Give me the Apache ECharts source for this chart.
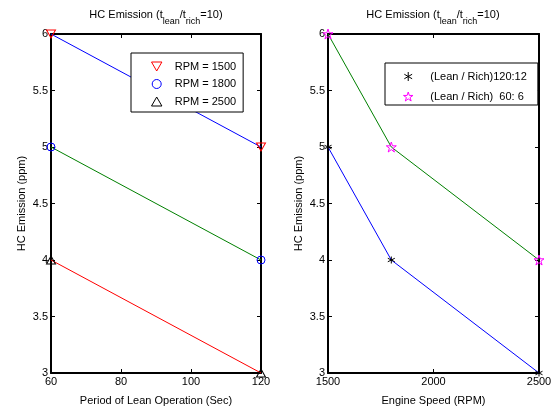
<!DOCTYPE html>
<html>
<head>
<meta charset="utf-8">
<script src="https://cdn.jsdelivr.net/npm/echarts@6/dist/echarts.min.js"></script>
<style>
html,body{margin:0;padding:0;background:#fff;}
#c{width:554px;height:411px;}
</style>
</head>
<body>
<div id="c"></div>
<script>
// ---- Data ----
const leanPeriod = [60, 120];
const rpm1500 = [6, 5];
const rpm1800 = [5, 4];
const rpm2500 = [4, 3];
const engineSpeed = [1500, 1800, 2500];
const lean120 = [5, 4, 3];
const lean60 = [6, 5, 4];
const leftNames = ['RPM = 1500', 'RPM = 1800', 'RPM = 2500'];
const rightNames = ['(Lean / Rich)120:12', '(Lean / Rich)  60: 6'];

const FONT = '"Liberation Sans", Arial, Helvetica, sans-serif';
const pairs = (xs, ys) => xs.map((x, i) => [x, ys[i]]);

const TRI_DOWN = 'path://M0,0 L10,0 L5,8.66 Z';
const TRI_UP = 'path://M5,0 L10,8.66 L0,8.66 Z';
const CIRCLE = 'path://M10,5 A5,5 0 1 1 0,5 A5,5 0 1 1 10,5 Z';
const STAR = 'path://M50,0 L61.23,34.55 L97.55,34.55 L68.17,55.9 L79.39,90.45 L50,69.1 L20.61,90.45 L31.83,55.9 L2.45,34.55 L38.77,34.55 Z';
const ASTER = 'path://M5,0 L5,10 M0.67,2.5 L9.33,7.5 M0.67,7.5 L9.33,2.5';

function xAx(grid, min, max, interval, pos, name) {
  const a = {
    gridIndex: grid, type: 'value', min: min, max: max, interval: interval, position: pos,
    axisLine: {show: true, lineStyle: {color: '#000', width: 2}},
    axisTick: {show: true, inside: true, length: 4, lineStyle: {color: '#000', width: 1}},
    axisLabel: {show: pos === 'bottom', margin: 3, color: '#000', fontSize: 11, fontFamily: FONT,
      formatter: v => String(v)},
    splitLine: {show: false}
  };
  if (name) {
    a.name = name; a.nameLocation = 'middle'; a.nameGap = 22;
    a.nameTextStyle = {color: '#000', fontSize: 11, fontFamily: FONT};
  }
  return a;
}
function yAx(grid, pos, name) {
  const a = {
    gridIndex: grid, type: 'value', min: 3, max: 6, interval: 0.5, position: pos,
    axisLine: {show: true, lineStyle: {color: '#000', width: 2}},
    axisTick: {show: true, inside: true, length: 4, lineStyle: {color: '#000', width: 1}},
    axisLabel: {show: pos === 'left', margin: 3, color: '#000', fontSize: 11, fontFamily: FONT},
    splitLine: {show: false}
  };
  if (name) {
    a.name = name; a.nameLocation = 'middle'; a.nameGap = 24;
    a.nameTextStyle = {color: '#000', fontSize: 11, fontFamily: FONT};
  }
  return a;
}
function lineS(xi, yi, data, color) {
  return {type: 'line', xAxisIndex: xi, yAxisIndex: yi, data: data, showSymbol: false, symbol: 'none',
    lineStyle: {color: color, width: 1}, silent: true, clip: false, z: 2, animation: false};
}
function markS(name, xi, yi, data, symbol, size, color) {
  return {type: 'scatter', name: name, xAxisIndex: xi, yAxisIndex: yi, data: data,
    symbol: symbol, symbolSize: size, clip: false, z: 50, animation: false,
    itemStyle: {color: 'rgba(0,0,0,0)', borderColor: color, borderWidth: 1, opacity: 1}};
}

const titleRich = {
  a: {fontSize: 11, fontWeight: 'normal', fontFamily: FONT, color: '#000', lineHeight: 13, verticalAlign: 'top'},
  s: {fontSize: 9, fontWeight: 'normal', fontFamily: FONT, color: '#000', lineHeight: 9, padding: [8, 0, 0, 0], verticalAlign: 'top'}
};
const titleText = '{a|HC Emission (t}{s|lean}{a|/t}{s|rich}{a|=10)}';

const legendCommon = {
  orient: 'vertical', selectedMode: false, itemHeight: 9, symbolKeepAspect: true,
  borderColor: '#000', borderWidth: 1, backgroundColor: '#fff', z: 60,
  itemStyle: {borderWidth: 1},
  textStyle: {color: '#000', fontSize: 11, fontFamily: FONT}
};

const chart = echarts.init(document.getElementById('c'), null, {renderer: 'canvas'});
chart.setOption({
  backgroundColor: '#fff',
  animation: false,
  title: [
    {text: titleText, left: 151, top: 4, textAlign: 'center', textStyle: {fontWeight: 'normal', rich: titleRich}},
    {text: titleText, left: 428, top: 4, textAlign: 'center', textStyle: {fontWeight: 'normal', rich: titleRich}}
  ],
  grid: [
    {left: 51, top: 34, width: 210, height: 339, outerBoundsMode: 'none'},
    {left: 328, top: 34, width: 211, height: 339, outerBoundsMode: 'none'}
  ],
  xAxis: [
    xAx(0, 60, 120, 20, 'bottom', 'Period of Lean Operation (Sec)'),
    xAx(0, 60, 120, 20, 'top'),
    xAx(1, 1500, 2500, 500, 'bottom', 'Engine Speed (RPM)'),
    xAx(1, 1500, 2500, 500, 'top')
  ],
  yAxis: [
    yAx(0, 'left', 'HC Emission (ppm)'),
    yAx(0, 'right'),
    yAx(1, 'left', 'HC Emission (ppm)'),
    yAx(1, 'right')
  ],
  legend: [
    Object.assign({}, legendCommon, {data: leftNames, left: 131, top: 53,
      itemWidth: 26, itemGap: 6.5, padding: [8, 7, 5, 20]}),
    Object.assign({}, legendCommon, {data: rightNames, left: 385, top: 63,
      itemWidth: 34, itemGap: 9, padding: [8, 11, 3, 18]})
  ],
  series: [
    lineS(0, 0, pairs(leanPeriod, rpm1500), '#0000ff'),
    lineS(0, 0, pairs(leanPeriod, rpm1800), '#008000'),
    lineS(0, 0, pairs(leanPeriod, rpm2500), '#ff0000'),
    markS(leftNames[0], 0, 0, pairs(leanPeriod, rpm1500), TRI_DOWN, [9, 8], '#ff0000'),
    markS(leftNames[1], 0, 0, pairs(leanPeriod, rpm1800), CIRCLE, 8, '#0000ff'),
    markS(leftNames[2], 0, 0, pairs(leanPeriod, rpm2500), TRI_UP, [9, 8], '#000000'),
    lineS(2, 2, pairs(engineSpeed, lean120), '#0000ff'),
    lineS(2, 2, pairs(engineSpeed, lean60), '#008000'),
    markS(rightNames[0], 2, 2, pairs(engineSpeed, lean120), ASTER, 7, '#000000'),
    markS(rightNames[1], 2, 2, pairs(engineSpeed, lean60), STAR, 10, '#ff00ff')
  ]
});
</script>
</body>
</html>
